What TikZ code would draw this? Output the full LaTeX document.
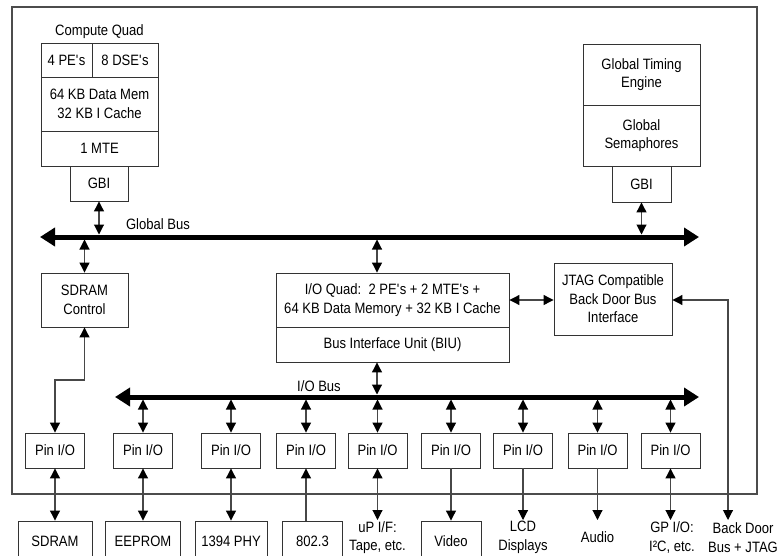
\documentclass[tikz,border=0pt]{standalone}
\usepackage{fontspec}
\setmainfont{Liberation Sans}[FakeStretch=0.87]
\usetikzlibrary{arrows.meta,calc}

\begin{document}
\begin{tikzpicture}[x=1pt,y=-1pt,
  every node/.style={font=\fontsize{15}{18.5}\selectfont, inner sep=0pt, align=center},
  box/.style={draw=black!80, line width=0.9pt},
  pinbox/.style={box, minimum width=59pt, minimum height=35pt},
  extbox/.style={box, minimum height=40pt},
  extlabel/.style={inner ysep=2.5pt},
  frame/.style={draw=black!70, line width=1.3pt},
  tip/.tip={Triangle[length=10pt,width=10pt,color=black]},
  wire/.style={draw=black!72, line width=1.1pt},
  both/.style={wire, {tip}-{tip}},
  fwd/.style={wire, -{tip}},
  bus/.style={line width=5pt, {Triangle[length=15pt,width=18pt]}-{Triangle[length=15pt,width=18pt]}}
]
\useasboundingbox (0,0) rectangle (781,556);
\newcommand{\apos}{\textquotesingle}

% chip outline
\draw[frame] (12,7) rectangle (757,494);

% compute quad
\node (cqlabel) at (99.5,32) {Compute Quad};
\node[box, minimum width=51pt, minimum height=34pt] (pe) at (66.5,60) {4 PE\apos s};
\node[box, minimum width=66pt, minimum height=34pt] (dse) at (125,60) {8 DSE\apos s};
\node[box, minimum width=117pt, minimum height=54pt] (mem) at (99.5,104) {64 KB Data Mem\\32 KB I Cache};
\node[box, minimum width=117pt, minimum height=35pt] (mte) at (99.5,148.5) {1 MTE};
\node[box, minimum width=58pt, minimum height=35pt] (gbiA) at (99,183.5) {GBI};

% global timing / semaphores
\node[box, minimum width=117pt, minimum height=61pt] (gte) at (641.5,74.5) {Global Timing\\Engine};
\node[box, minimum width=117pt, minimum height=61pt] (sem) at (641.5,135.5) {Global\\Semaphores};
\node[box, minimum width=59pt, minimum height=36pt] (gbiB) at (641.5,184) {GBI};

% global bus
\coordinate (gbL) at (40,237);
\coordinate (gbR) at (699,237);
\coordinate (gbTop) at (0,234.5);
\coordinate (gbBot) at (0,239.5);
\draw[bus] (gbL) -- (gbR);
\node (gblabel) at (158,224) {Global Bus};

% middle row
\node[box, minimum width=87pt, minimum height=54pt] (sdc) at (84.5,300) {SDRAM\\Control};
\node[box, minimum width=233pt, minimum height=54pt] (ioq) at (392.5,300) {I/O Quad:\ \ 2 PE\apos s + 2 MTE\apos s +\\64 KB Data Memory + 32 KB I Cache};
\node[box, minimum width=233pt, minimum height=35pt] (biu) at (392.5,344.5) {Bus Interface Unit (BIU)};
\node[box, minimum width=118pt, minimum height=72pt] (jtag) at (613,299) {JTAG Compatible\\Back Door Bus\\Interface};
\coordinate (ioqx) at (377,0);

% I/O bus
\coordinate (ibL) at (115,397);
\coordinate (ibR) at (699,397);
\coordinate (ibTop) at (0,394.5);
\coordinate (ibBot) at (0,399.5);
\draw[bus] (ibL) -- (ibR);
\node (iblabel) at (319,386) {I/O Bus};

% pin I/O row
\foreach \i/\x in {1/55,2/143,3/231,4/306,5/377.5,6/451,7/523,8/597.5,9/670.5}
  \node[pinbox] (pin\i) at (\x,450.5) {Pin I/O};

% external devices
\node[extbox, minimum width=74pt] (sdram) at (55,541) {SDRAM};
\node[extbox, minimum width=75pt] (eeprom) at (143,541) {EEPROM};
\node[extbox, minimum width=72pt] (phy) at (231,541) {1394 PHY};
\node[extbox, minimum width=60pt] (enet) at (312.5,541) {802.3};
\node[extlabel] (upif) at (377.5,537.5) {uP I/F:\\Tape, etc.};
\node[extbox, minimum width=60pt] (video) at (451,541) {Video};
\node[extlabel] (lcd) at (523,537.5) {LCD\\Displays};
\node[extlabel] (audio) at (597.5,537.5) {Audio};
\node[extlabel] (gpio) at (672,537.5) {GP I/O:\\I²C, etc.};
\node[extlabel] (bdoor) at (743,537.5) {Back Door\\Bus + JTAG};
\coordinate (bdx) at (728,0);
\coordinate (jog) at (0,380);
\coordinate (extTop) at (0,520);

% global bus connections
\draw[both] (gbiA.south) -- (gbiA.south |- gbTop);
\draw[both] (gbiB.south) -- (gbiB.south |- gbTop);
\draw[both] (sdc.north |- gbBot) -- (sdc.north);
\draw[both] (ioqx |- gbBot) -- (ioqx |- ioq.north);

% I/O quad links
\draw[both] (ioqx |- biu.south) -- (ioqx |- ibTop);
\draw[both] (ioq.east) -- (ioq.east -| jtag.west);
\draw[both] (jtag.east |- ioq.east) -| (bdx |- extTop);

% SDRAM control to its pin
\draw[both] (sdc.south) -- (sdc.south |- jog) -| (pin1.north);

% I/O bus to pins
\foreach \i in {2,...,9}
  \draw[both] (pin\i.north |- ibBot) -- (pin\i.north);

% pins to external devices
\draw[both] (pin1.south) -- (pin1.south |- sdram.north);
\draw[both] (pin2.south) -- (pin2.south |- eeprom.north);
\draw[both] (pin3.south) -- (pin3.south |- phy.north);
\draw[fwd] (pin4.south |- enet.north) -- (pin4.south);
\draw[both] (pin5.south) -- (pin5.south |- extTop);
\draw[fwd] (pin6.south) -- (pin6.south |- video.north);
\draw[fwd] (pin7.south) -- (pin7.south |- extTop);
\draw[fwd] (pin8.south) -- (pin8.south |- extTop);
\draw[both] (pin9.south) -- (pin9.south |- extTop);
\end{tikzpicture}
\end{document}
